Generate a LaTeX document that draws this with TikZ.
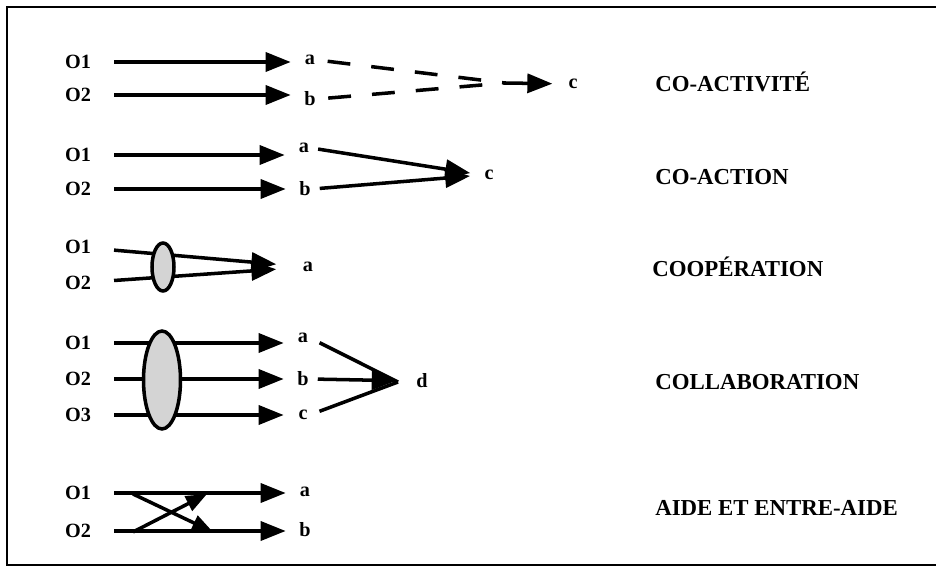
\documentclass[tikz,border=0pt]{standalone}
\usepackage{fontspec}
\setmainfont{Liberation Serif}
\usetikzlibrary{arrows.meta,shapes.geometric}
\begin{document}
\begin{tikzpicture}[
x=0.02cm,y=-0.02cm,
lbl/.style={font=\bfseries\fontsize{11.5}{13}\selectfont,inner sep=1pt},
kind/.style={font=\bfseries\fontsize{13}{15}\selectfont,anchor=west,inner sep=0pt},
arr/.style={line width=2pt,-{Triangle[length=0.5cm,width=0.38cm]},shorten <=12pt,shorten >=11pt},
plain/.style={line width=2pt,shorten <=6pt},
dashline/.style={line width=2pt,dash pattern=on 13pt off 12pt,shorten <=6pt},
blob/.style={ellipse,draw,line width=2pt,fill=black!17,inner sep=0pt},
cross/.style={line width=2pt,-{Triangle[length=0.42cm,width=0.32cm]}}]
\useasboundingbox (0,0) rectangle (936,567);
\draw[line width=1.3pt] (940,7) -- (7,7) -- (7,565) -- (940,565);

\node[lbl] (o1r1) at (78,62) {O1};
\node[lbl] (o2r1) at (78,95) {O2};
\node[lbl] (ar1) at (310,60) {a};
\node[lbl] (br1) at (310,99) {b};
\node[lbl] (cr1) at (573,84) {c};
\coordinate (mr1) at (505,83);
\draw[arr] (o1r1) -- (o1r1 -| ar1);
\draw[arr] (o2r1) -- (o2r1 -| br1);
\draw[dashline] (ar1.east) -- (mr1);
\draw[dashline] (br1.east) -- (mr1);
\draw[arr,shorten <=0pt,shorten >=8pt] (mr1) -- (cr1);
\node[kind] (coact) at (655,82) {CO-ACTIVITÉ};

\node[lbl] (o1r2) at (78,155) {O1};
\node[lbl] (o2r2) at (78,189) {O2};
\node[lbl] (ar2) at (304,148) {a};
\node[lbl] (br2) at (305,189) {b};
\node[lbl] (cr2) at (489,175) {c};
\draw[arr] (o1r2) -- (o1r2 -| ar2);
\draw[arr] (o2r2) -- (o2r2 -| br2);
\draw[arr,shorten <=4pt,shorten >=7pt] (ar2.east) -- (cr2.west);
\draw[arr,shorten <=4pt,shorten >=7pt] (br2.east) -- (cr2.west);
\node[kind] (coaction) at (655,177) {CO-ACTION};

\node[lbl] (o1r3) at (78,247) {O1};
\node[lbl] (o2r3) at (78,283) {O2};
\node[lbl] (ar3) at (308,267) {a};
\draw[arr,shorten >=14pt] (o1r3) -- (ar3);
\draw[arr,shorten >=14pt] (o2r3) -- (ar3);
\node[blob,minimum width=0.44cm,minimum height=0.96cm] (ov3) at (163,267) {};
\node[kind] (coop) at (652,267) {COOPÉRATION};

\node[lbl] (o1r4) at (78,343) {O1};
\node[lbl] (o2r4) at (78,379) {O2};
\node[lbl] (o3r4) at (78,415) {O3};
\node[lbl] (ar4) at (303,338) {a};
\node[lbl] (br4) at (303,379) {b};
\node[lbl] (cr4) at (303,415) {c};
\node[lbl] (dr4) at (422,381) {d};
\draw[arr] (o1r4) -- (o1r4 -| ar4);
\draw[arr] (o2r4) -- (o2r4 -| br4);
\draw[arr] (o3r4) -- (o3r4 -| cr4);
\node[blob,minimum width=0.74cm,minimum height=1.96cm] (ov4) at (162,380) {};
\draw[plain] (ar4.east) -- (398,382);
\draw[plain] (cr4.east) -- (398,382);
\draw[arr,shorten <=4pt,shorten >=10pt] (br4.east) -- (dr4.west);
\node[kind] (collab) at (655,382) {COLLABORATION};

\node[lbl] (o1r5) at (78,493) {O1};
\node[lbl] (o2r5) at (78,531) {O2};
\node[lbl] (ar5) at (305,492) {a};
\node[lbl] (br5) at (305,530) {b};
\draw[arr] (o1r5) -- (o1r5 -| ar5);
\draw[arr] (o2r5) -- (o2r5 -| br5);
\coordinate (s1) at (133,494);
\coordinate (s2) at (133,532);
\coordinate (e1) at (213,532);
\coordinate (e2) at (207,494);
\draw[cross] (s1) -- (e1);
\draw[cross] (s2) -- (e2);
\node[kind] (aide) at (655,508) {AIDE ET ENTRE-AIDE};
\end{tikzpicture}
\end{document}
